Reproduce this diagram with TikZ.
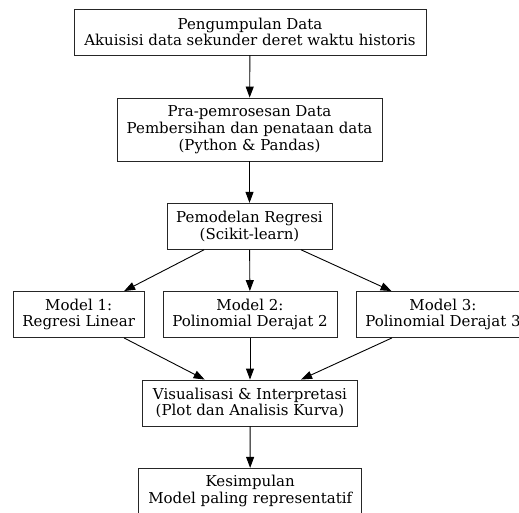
\documentclass[tikz,border=0pt]{standalone}
\usepackage{fontspec}
\setmainfont{DejaVu Serif}
\usetikzlibrary{arrows.meta}
\begin{document}
\begin{tikzpicture}[x=1pt,y=-1pt,
  box/.style={draw=black!85,line width=0.9pt,align=center,inner sep=0pt,
    font=\fontsize{15}{16.8}\selectfont},
  arr/.style={draw=black,line width=0.9pt,-{Triangle[length=11pt,width=8pt]}}]
\useasboundingbox (0,0) rectangle (519,512);
\fill[white] (0,0) rectangle (519,512);
\node[box,minimum width=352pt,minimum height=46pt] (a) at (250,32) {Pengumpulan Data\\Akuisisi data sekunder deret waktu historis};
\node[box,minimum width=265pt,minimum height=63pt] (b) at (249.5,129.5) {Pra-pemrosesan Data\\Pembersihan dan penataan data\\(Python \& Pandas)};
\node[box,minimum width=165pt,minimum height=46pt] (c) at (249.5,226.3) {Pemodelan Regresi\\(Scikit-learn)};
\node[box,minimum width=131pt,minimum height=46pt] (m1) at (78.7,314.5) {Model 1:\\Regresi Linear};
\node[box,minimum width=174pt,minimum height=46pt] (m2) at (250,314.5) {Model 2:\\Polinomial Derajat 2};
\node[box,minimum width=174pt,minimum height=46pt] (m3) at (443,314.5) {Model 3:\\Polinomial Derajat 3};
\node[box,minimum width=214.7pt,minimum height=46pt] (v) at (250,403) {Visualisasi \& Interpretasi\\(Plot dan Analisis Kurva)};
\node[box,minimum width=223pt,minimum height=46pt] (k) at (250.2,491.3) {Kesimpulan\\Model paling representatif};
\draw[arr] (a) -- (b);
\draw[arr] (b) -- (c);
\draw[arr] (c) -- (m1);
\draw[arr] (c) -- (m2);
\draw[arr] (c) -- (m3);
\draw[arr] (m1) -- (v);
\draw[arr] (m2) -- (v);
\draw[arr] (m3) -- (v);
\draw[arr] (v) -- (k);
\end{tikzpicture}
\end{document}
